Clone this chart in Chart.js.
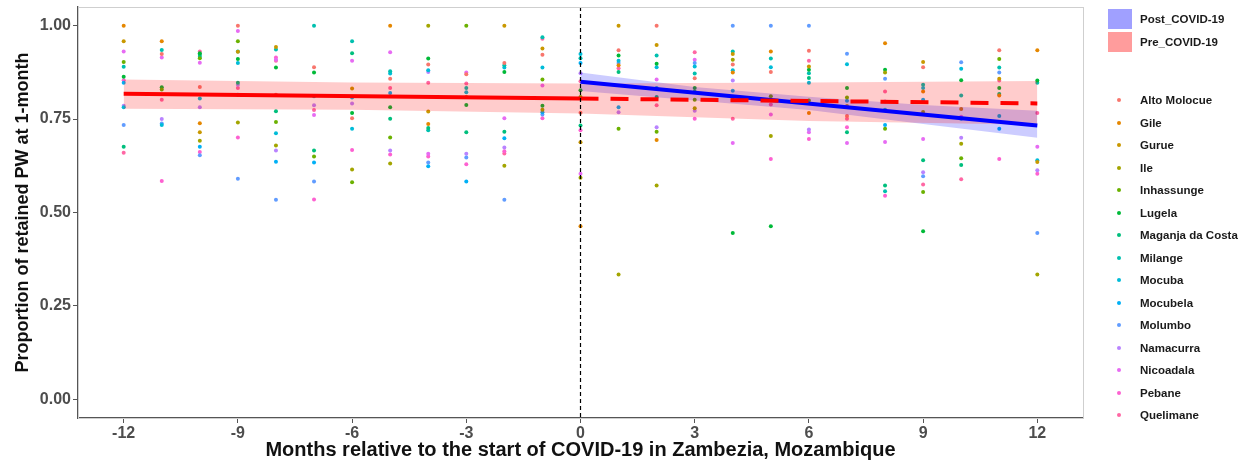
<!DOCTYPE html>
<html>
<head>
<meta charset="utf-8">
<script src="https://cdn.jsdelivr.net/npm/chart.js@4.4.1/dist/chart.umd.min.js"></script>
<style>
  body { margin: 0; background: #fff; }
  #wrap { position: relative; width: 1244px; height: 462px; }
  #legend { position: absolute; left: 0; top: 0; width: 1244px; height: 462px; pointer-events: none;
    font-family: "Liberation Sans", Arial, sans-serif; font-weight: bold; font-size: 11.5px; color: #1a1a1a; }
  .lg { position: absolute; left: 1140px; transform: translateY(-50%); white-space: nowrap; }
  .sq { position: absolute; left: 1108px; width: 24px; height: 20px; }
  .dt { position: absolute; left: 1117px; width: 4px; height: 4px; border-radius: 50%; }
</style>
</head>
<body>
<div id="wrap">
  <canvas id="myChart" width="1244" height="462"></canvas>
  <div id="legend"></div>
</div>
<script>
// meses relativos al inicio de COVID-19
var months = [-12,-11,-10,-9,-8,-7,-6,-5,-4,-3,-2,-1,0,1,2,3,4,5,6,7,8,9,10,11,12];
var xTicks = [-12,-9,-6,-3,0,3,6,9,12];
var yTicks = [0,0.25,0.5,0.75,1];

var districts = ['Alto Molocue','Gile','Gurue','Ile','Inhassunge','Lugela','Maganja da Costa','Milange',
  'Mocuba','Mocubela','Molumbo','Namacurra','Nicoadala','Pebane','Quelimane'];
var districtColors = ['#F8766D','#E58700','#C99800','#A3A500','#6BB100','#00BA38','#00BF7D','#00C0AF',
  '#00BCD8','#00B0F6','#619CFF','#B983FF','#E76BF3','#FD61D1','#FF67A4'];

// proporcion por distrito, un valor por mes (null = sin dato)
var altoMolocue    = [null,.924,.836,1.0,.815,.889,.752,.858,.896,.870,.900,.922,.767,.934,1.0,.859,.896,.876,.933,.758,null,.889,null,.934,null];
var gile           = [1.0,.958,.739,null,null,null,null,1.0,.737,.809,null,null,.463,.894,.694,null,.875,.931,.766,null,.953,.824,.777,.813,.934];
var gurue          = [.958,null,.715,.930,.943,null,.832,null,.770,null,1.0,.939,.688,1.0,.948,null,.924,null,.891,.785,null,.903,null,.858,.635];
var ile            = [null,null,.692,.741,.679,null,.615,.631,1.0,null,.625,.775,.593,.334,.572,.779,.909,.705,null,null,.875,.769,.684,null,.334];
var inhassunge     = [.903,.829,.913,.958,.742,.650,.581,.701,null,1.0,null,.856,.809,.724,.716,.802,.802,.811,.800,.808,.724,.555,.645,.911,null];
var lugela         = [.863,.835,.926,.911,.888,.875,.766,.782,.912,.788,.876,.786,.827,.920,.898,.833,.445,.463,.882,.833,.882,.450,.854,.833,.853];
var maganja        = [.676,null,.922,.847,.771,.666,.926,.751,.726,.715,.716,null,.733,.876,.809,.823,null,null,.860,.715,.572,.640,.627,.817,null];
var milange        = [.890,.935,.917,.931,.936,1.0,.958,.878,.720,.833,.894,.969,.913,null,.920,.872,.931,.912,.873,null,.557,.842,.813,.888,.847];
var mocuba         = [.782,.734,.805,.900,.712,.811,.724,.872,.881,.822,.888,.888,.924,.906,.889,.891,.881,.889,.847,.897,.775,.833,.885,.758,.640];
var mocubela       = [.847,null,.676,.815,.636,.634,.808,.820,.624,.583,.699,.768,.900,.782,.833,null,.826,null,null,.799,.734,.802,.751,.724,null];
var molumbo        = [.734,.738,.653,.590,.534,.583,null,null,.634,.647,.534,.762,null,.900,null,.900,1.0,1.0,1.0,.925,.858,.597,.902,.875,.445];
var namacurra      = [.786,.750,.782,.842,.666,.787,.792,.666,.876,.657,.674,null,.873,.768,.728,.772,.853,null,.722,null,.797,.608,.700,null,.613];
var nicoadala      = [.931,.915,.901,.986,.909,.761,.906,.929,.657,.875,.752,.840,.604,null,.856,.909,.686,.762,.715,.686,.689,.697,.756,null,.676];
var pebane         = [.854,.584,.662,.701,.915,.535,.667,.655,.650,.629,.664,.752,.720,null,null,.751,null,.643,.697,.728,.545,null,null,.643,.604];
var quelimane      = [.660,.802,.931,.833,.906,.774,null,.833,.847,.845,.658,.965,.851,.886,.787,.929,.751,.789,.906,.751,.824,.575,.589,.853,.766];
var districtValues = [altoMolocue,gile,gurue,ile,inhassunge,lugela,maganja,milange,mocuba,mocubela,molumbo,
  namacurra,nicoadala,pebane,quelimane];

// ajustes lineales y bandas de confianza
var covidStart = 0;
var preFitX = [-12, 0];
var preFitY = [0.818, 0.805];
var preExtX = [0, 12];
var preExtY = [0.805, 0.792];
var preBandX = [-12, -6, 0, 6, 12];
var preUpper = [0.856, 0.848, 0.845, 0.848, 0.852];
var preLower = [0.778, 0.775, 0.765, 0.745, 0.735];
var postFitX = [0, 12];
var postFitY = [0.850, 0.733];
var postBandX = [0, 3, 6, 9, 12];
var postUpper = [0.875, 0.836, 0.810, 0.788, 0.772];
var postLower = [0.825, 0.800, 0.774, 0.737, 0.700];

var toPts = (xs, ys) => xs.map((x, i) => ({x: x, y: ys[i]}));

var datasets = [];
districts.forEach((name, i) => {
  var pts = [];
  months.forEach((m, j) => {
    if (districtValues[i][j] != null) pts.push({x: m, y: districtValues[i][j]});
  });
  datasets.push({
    type: 'scatter', label: name, data: pts,
    backgroundColor: districtColors[i], borderWidth: 0, pointRadius: 2, order: 3
  });
});

var band = (xs, ys, fill, color) => ({
  type: 'line', data: toPts(xs, ys), showLine: true, pointRadius: 0, borderWidth: 0,
  borderColor: 'rgba(0,0,0,0)', fill: fill, backgroundColor: color, order: 2
});
datasets.push(band(preBandX, preLower, false, 'rgba(0,0,0,0)'));
datasets.push(band(preBandX, preUpper, '-1', 'rgba(255,0,0,0.2)'));
datasets.push(band(postBandX, postLower, false, 'rgba(0,0,0,0)'));
datasets.push(band(postBandX, postUpper, '-1', 'rgba(0,0,255,0.2)'));

var fitLine = (xs, ys, color, dash) => ({
  type: 'line', data: toPts(xs, ys), showLine: true, pointRadius: 0, borderWidth: 4,
  borderColor: color, borderDash: dash, fill: false, order: 1
});
datasets.push(fitLine(preFitX, preFitY, '#FF0000', []));
datasets.push(fitLine(preExtX, preExtY, '#FF0000', [18, 12]));
datasets.push(fitLine(postFitX, postFitY, '#0000FF', []));

// linea vertical punteada y borde del panel
var extras = {
  id: 'extras',
  afterDatasetsDraw: (chart) => {
    var ctx = chart.ctx, a = chart.chartArea;
    var x = chart.scales.x.getPixelForValue(covidStart);
    ctx.save();
    ctx.strokeStyle = '#000';
    ctx.lineWidth = 1.2;
    ctx.setLineDash([4, 3]);
    ctx.beginPath();
    ctx.moveTo(x, a.top);
    ctx.lineTo(x, a.bottom);
    ctx.stroke();
    ctx.setLineDash([]);
    ctx.strokeStyle = '#cfcfcf';
    ctx.lineWidth = 1;
    ctx.strokeRect(a.left + 0.5, a.top + 0.5, a.right - a.left, a.bottom - a.top);
    ctx.restore();
  }
};

var fam = '"Liberation Sans", Arial, sans-serif';
var tickFont = {family: fam, size: 16, weight: 'bold'};

var ctx = document.getElementById('myChart').getContext('2d');
var chart = new Chart(ctx, {
  type: 'scatter',
  data: {datasets: datasets},
  options: {
    responsive: false,
    animation: false,
    layout: {padding: {top: 7, right: 161, left: 0, bottom: 0}},
    plugins: {legend: {display: false}, tooltip: {enabled: false}},
    scales: {
      x: {
        type: 'linear', min: -13.2, max: 13.2,
        afterBuildTicks: (axis) => { axis.ticks = xTicks.map(v => ({value: v})); },
        afterFit: (s) => { s.height = 44; s.paddingLeft = 0; s.paddingRight = 0; },
        grid: {drawOnChartArea: false, drawTicks: true, tickLength: 5, color: '#555'},
        border: {display: true, color: '#555', width: 1.3},
        ticks: {color: '#4d4d4d', font: tickFont, padding: 1, maxRotation: 0},
        title: {display: true, text: 'Months relative to the start of COVID-19 in Zambezia, Mozambique',
          color: '#111', font: {family: fam, size: 20, weight: 'bold'},
          padding: {top: 0, bottom: 0}}
      },
      y: {
        type: 'linear', min: -0.05, max: 1.05,
        afterBuildTicks: (axis) => { axis.ticks = yTicks.map(v => ({value: v})); },
        afterFit: (s) => { s.width = 78; s.paddingTop = 0; s.paddingBottom = 0; },
        grid: {drawOnChartArea: false, drawTicks: true, tickLength: 5, color: '#555'},
        border: {display: true, color: '#555', width: 1.3},
        ticks: {color: '#4d4d4d', font: tickFont, padding: 2, callback: (v) => v.toFixed(2)},
        title: {display: true, text: 'Proportion of retained PW at 1-month',
          color: '#111', font: {family: fam, size: 18, weight: 'bold'},
          padding: {top: 12, bottom: 0}}
      }
    }
  },
  plugins: [extras]
});

// leyenda
var legend = document.getElementById('legend');
var addSq = (top, color, text) => {
  var s = document.createElement('div');
  s.className = 'sq'; s.style.top = top + 'px'; s.style.background = color;
  legend.appendChild(s);
  var t = document.createElement('div');
  t.className = 'lg'; t.style.top = (top + 10) + 'px'; t.textContent = text;
  legend.appendChild(t);
};
addSq(9, '#A0A0FF', 'Post_COVID-19');
addSq(32, '#FF9C9C', 'Pre_COVID-19');
districts.forEach((name, i) => {
  var y = 100 + i * 22.5;
  var d = document.createElement('div');
  d.className = 'dt'; d.style.top = (y - 2) + 'px'; d.style.background = districtColors[i];
  legend.appendChild(d);
  var t = document.createElement('div');
  t.className = 'lg'; t.style.top = y + 'px'; t.textContent = name;
  legend.appendChild(t);
});
</script>
</body>
</html>
